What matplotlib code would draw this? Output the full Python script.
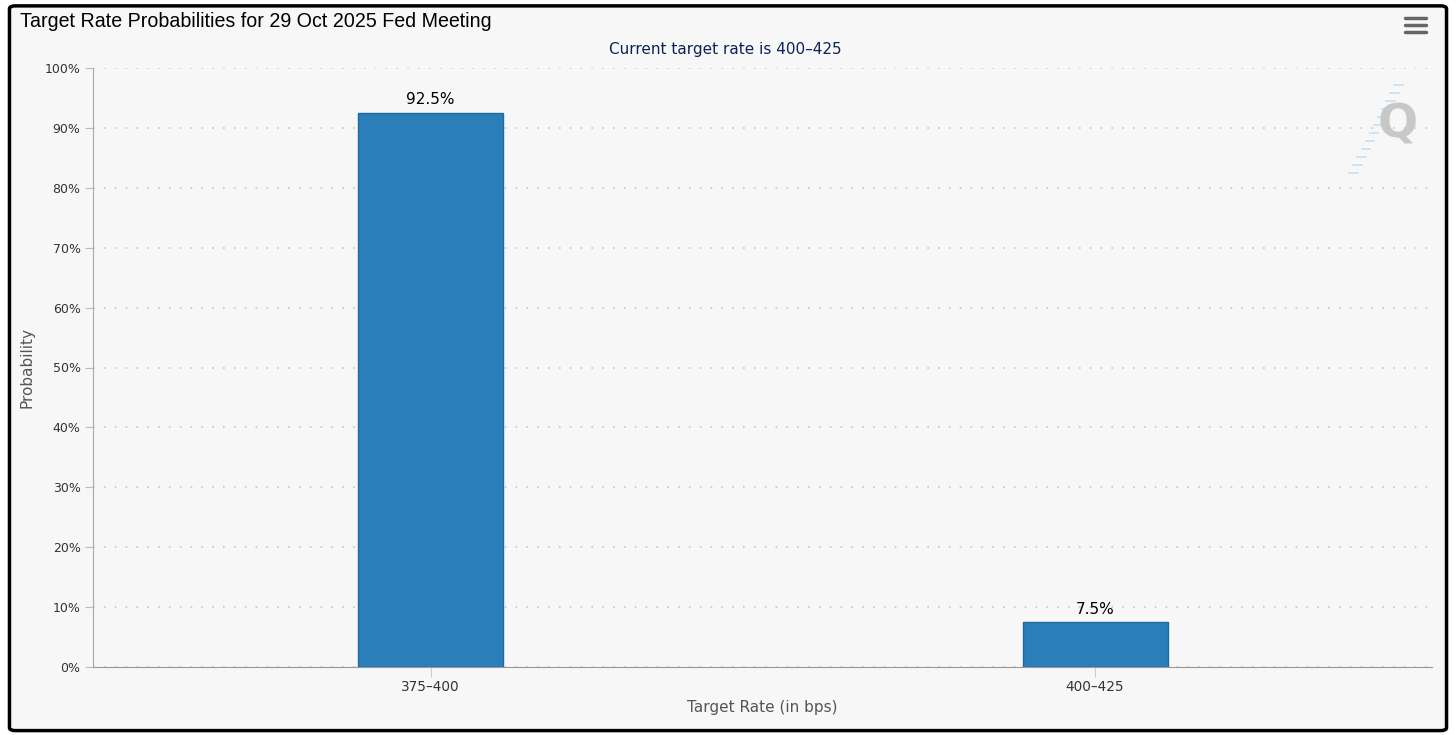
import matplotlib.pyplot as plt
from matplotlib.patches import FancyBboxPatch
from matplotlib.ticker import FuncFormatter

# Data
categories = ["375\u2013400", "400\u2013425"]
probabilities = [92.5, 7.5]
bar_labels = ["92.5%", "7.5%"]
y_ticks = [0, 10, 20, 30, 40, 50, 60, 70, 80, 90, 100]

fig = plt.figure(figsize=(14.56, 7.35), dpi=100)
fig.patch.set_facecolor("white")

# outer frame
frame = FancyBboxPatch((0.0065, 0.006), 0.987, 0.986, boxstyle="round,pad=0,rounding_size=0.004",
                       transform=fig.transFigure, facecolor="#f7f7f7", edgecolor="black",
                       linewidth=2.5, zorder=-10)
fig.patches.append(frame)

ax = fig.add_axes([0.0639, 0.0925, 0.9196, 0.815])
ax.set_facecolor("#f7f7f7")

x = list(range(len(categories)))
ax.bar(x, probabilities, width=0.218, color="#2a7fb8", edgecolor="#1c6aa0",
       linewidth=1, zorder=3)
for xi, v, lab in zip(x, probabilities, bar_labels):
    ax.annotate(lab, (xi, v), xytext=(0, 4), textcoords="offset points",
                ha="center", va="bottom", fontsize=11, color="black",
                family="DejaVu Sans")

ax.set_xlim(-0.508, 1.507)
ax.set_ylim(0, 100)
ax.set_yticks(y_ticks)
ax.yaxis.set_major_formatter(FuncFormatter(lambda v, p: f"{int(v)}%"))
ax.set_xticks(x)
ax.set_xticklabels(categories)
ax.grid(axis="y", color="#cccccc", linestyle=(0, (1, 5)), linewidth=1.3, zorder=0)
ax.tick_params(axis="y", length=6, color="#bbbbbb", labelsize=9, labelcolor="#333333", pad=3)
ax.tick_params(axis="x", length=7, color="#cccccc", labelsize=9.8, labelcolor="#333333", pad=2.5)
for s in ["top", "right"]:
    ax.spines[s].set_visible(False)
ax.spines["left"].set_color("#aaaaaa")
ax.spines["bottom"].set_color("#999999")

ax.set_ylabel("Probability", fontsize=11, color="#555555", labelpad=7)
ax.set_xlabel("Target Rate (in bps)", fontsize=11, color="#555555", labelpad=4)

fig.text(0.0137, 0.971, "Target Rate Probabilities for 29 Oct 2025 Fed Meeting",
         fontsize=14.1, family="Liberation Sans", color="black", va="center", ha="left")
fig.text(0.498, 0.932, "Current target rate is 400\u2013425", fontsize=11,
         color="#0d2357", ha="center", va="center")

# menu icon
for yy in [0.975, 0.966, 0.957]:
    fig.add_artist(plt.Line2D([0.9652, 0.9792], [yy, yy], transform=fig.transFigure,
                              color="#666666", linewidth=2.5, solid_capstyle="round"))

# watermark
fig.text(0.960, 0.83, "Q", fontsize=34, fontweight="bold", color="#c8c8c8",
         ha="center", va="center", family="DejaVu Sans")
for i in range(12):
    yy = 0.885 - i * 0.011
    xx = 0.9635 - i * 0.0028
    fig.add_artist(plt.Line2D([xx - 0.006, xx], [yy, yy], transform=fig.transFigure,
                              color="#bfe3f5", linewidth=1.2))

fig.savefig("out.png", dpi=100, facecolor="white")
